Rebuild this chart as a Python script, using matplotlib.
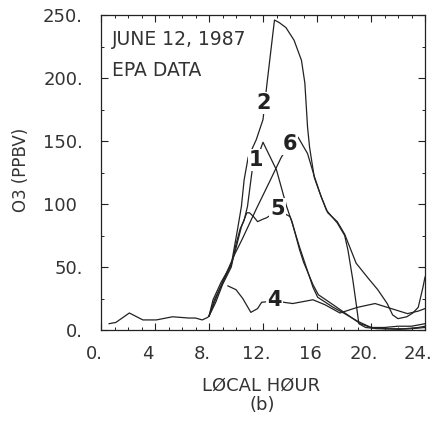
import matplotlib
matplotlib.use("Agg")
import matplotlib.pyplot as plt
import matplotlib.transforms as mtransforms
from matplotlib.ticker import MultipleLocator, FixedLocator

# ---- data (hour, ppbv) ----
c2_h = [0.6, 1.1, 2.1, 3.1, 4.1, 5.3, 6.5, 7.0, 7.5, 7.9, 8.0, 8.4, 8.8, 9.3, 9.65, 10.1, 10.4, 10.6,
        10.9, 11.5, 12.0, 12.3, 12.85, 13.2, 13.7, 14.3, 14.85, 15.1, 15.3, 15.45, 15.8, 16.2, 16.7,
        17.5, 18.05, 18.3, 18.65, 18.9, 19.1, 19.6, 20.5, 21.5, 22.5, 23.5, 24.0]
c2_v = [5, 6, 13.5, 8, 8, 10.5, 9.5, 9.5, 8, 10, 11, 24, 33, 44, 52, 79, 98, 119,
        137, 151, 167, 196, 246, 244, 240, 230, 214, 196, 161, 145, 121, 109, 95,
        85, 75, 63, 40, 21, 5, 2, 1, 1, 1, 2, 3]

c1_h = [8.0, 8.5, 9.0, 9.65, 10.0, 10.3, 10.6, 10.85, 11.2, 11.7, 12.0, 13.0, 13.75, 14.1, 14.7,
        15.7, 16.05, 17.2, 18.05, 19.0, 20.0, 21.0, 22.0, 23.0, 24.0]
c1_v = [11, 22, 36, 50, 68, 80, 87, 98, 127, 140, 149, 127, 98, 87, 66,
        34, 26, 18, 13, 7, 2, 1, 0.5, 1, 2]

c5_h = [8.0, 8.3, 8.9, 9.65, 10.0, 10.4, 10.8, 11.0, 11.3, 11.6, 12.0, 12.25, 13.15, 14.0, 14.15,
        14.7, 15.0, 15.7, 16.1, 17.2, 18.4, 19.2, 20.0, 21.0, 22.0, 23.0, 24.0]
c5_v = [11, 24, 38, 52, 65, 82, 93, 93, 90, 86, 88, 89, 95, 90, 86,
        64, 54, 36, 28, 20, 11, 5, 2, 2, 3, 3, 5]

c6_h = [8.0, 8.4, 9.0, 9.65, 9.9, 10.5, 11.5, 12.5, 13.35, 14.0, 14.6, 15.3, 15.8, 16.3, 16.8,
        17.5, 18.05, 18.9, 19.8, 20.5, 21.2, 21.6, 22.0, 22.65, 23.1, 23.5, 23.85, 24.0]
c6_v = [11, 22, 38, 54, 60, 73, 96, 118, 137, 148, 153, 140, 122, 106, 93,
        86, 76, 53, 41, 32, 21, 12, 9, 10.5, 13.5, 18, 34, 42]

c4_h = [9.4, 10.0, 10.5, 11.1, 11.6, 11.9, 12.85, 14.2, 15.7, 16.6, 17.7, 19.0, 20.3, 21.5, 22.7, 23.5, 24.0]
c4_v = [35, 32, 25, 14, 17, 22, 23, 21, 24, 20, 13.5, 18, 21, 17, 13, 15, 17]

series = [("1", c1_h, c1_v), ("2", c2_h, c2_v), ("4", c4_h, c4_v), ("5", c5_h, c5_v), ("6", c6_h, c6_v)]
label_pos = {"1": (11.5, 135), "2": (12.05, 180), "4": (12.85, 24), "5": (13.1, 96), "6": (13.97, 148)}

x_ticks = [0, 4, 8, 12, 16, 20, 24]
x_tick_labels = ["0.", "4", "8.", "12.", "16", "20.", "24."]
y_ticks = [0, 50, 100, 150, 200, 250]
y_tick_labels = ["0.", "50.", "100 ", "150.", "200.", "250."]

ink = "#222222"
plt.rcParams['font.family'] = ['DejaVu Sans']

fig = plt.figure(figsize=(4.36, 4.25), dpi=100)
ax = fig.add_axes([101/436, 1-330/425, 324/436, 315/425])

for name, h, v in series:
    ax.plot(h, v, color=ink, lw=0.9, zorder=3)

for name, (hx, vy) in label_pos.items():
    ax.text(hx, vy, name, fontsize=15, fontweight='bold', color=ink, ha='center', va='center',
            zorder=5, bbox=dict(boxstyle='square,pad=0.05', fc='white', ec='none'))

ax.set_xlim(0, 24)
ax.set_ylim(0, 250)
ax.xaxis.set_major_locator(FixedLocator(x_ticks))
ax.set_xticklabels(x_tick_labels)
ax.xaxis.set_minor_locator(MultipleLocator(1))
ax.yaxis.set_major_locator(FixedLocator(y_ticks))
ax.set_yticklabels(y_tick_labels)
ax.yaxis.set_minor_locator(MultipleLocator(25))

ax.tick_params(which='both', direction='in', top=True, right=True, colors=ink, labelcolor='#333333')
ax.tick_params(which='major', length=5, width=0.8, labelsize=13)
ax.tick_params(which='minor', length=2.5, width=0.7)
ax.tick_params(axis='y', pad=13)
ax.tick_params(axis='x', pad=11)

offset = mtransforms.ScaledTranslation(-7/100, 0, fig.dpi_scale_trans)
for lab in ax.get_xticklabels():
    lab.set_transform(lab.get_transform() + offset)

for s in ax.spines.values():
    s.set_color(ink)
    s.set_linewidth(0.9)

ax.text(0.034, 0.922, "JUNE 12, 1987", transform=ax.transAxes, fontsize=13.5, color='#333333',
        ha='left', va='center')
ax.text(0.034, 0.825, "EPA DATA", transform=ax.transAxes, fontsize=13.5, color='#333333',
        ha='left', va='center')

fig.text(21/436, 1-170/425, "O3 (PPBV)", rotation=90, ha='center', va='center', fontsize=12, color='#333333')
fig.text(261/436, 1-386/425, "LØCAL HØUR", ha='center', va='center', fontsize=13, color='#333333')
fig.text(262/436, 1-405/425, "(b)", ha='center', va='center', fontsize=13, color='#333333')

fig.savefig("out.png", dpi=100, facecolor='white')
